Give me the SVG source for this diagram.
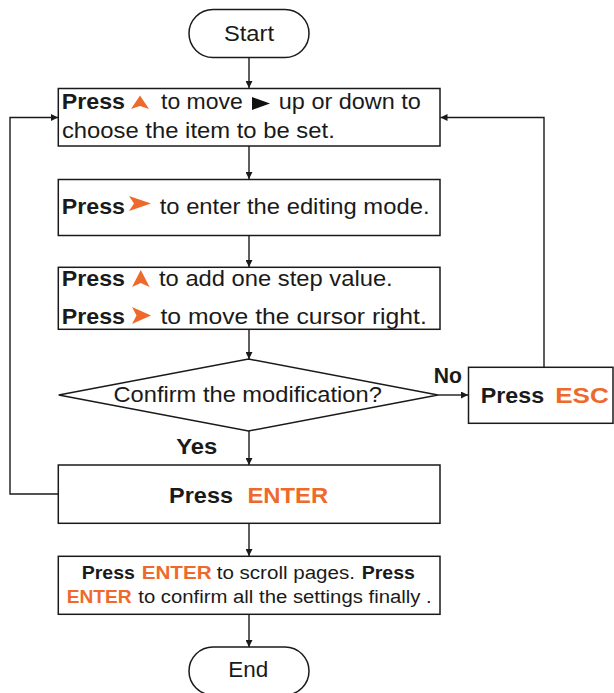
<svg xmlns="http://www.w3.org/2000/svg" width="614" height="693" viewBox="0 0 614 693">
<defs>
<style>
.box{fill:#fff;stroke:#1a1a1a;stroke-width:1.5}
.t{font-family:"Liberation Sans",Arial,sans-serif;font-size:21.5px;fill:#1a1a1a}
.s{font-size:18px}
.b{font-weight:bold}
.o{fill:#ee6a2c}
.ln{fill:none;stroke:#1a1a1a;stroke-width:1.4}
.ic{fill:#ee6a2c}
</style>
<marker id="ah" viewBox="0 0 10 10" refX="10" refY="5" markerWidth="9" markerHeight="7" markerUnits="userSpaceOnUse" orient="auto">
<path d="M0,0 L10,5 L0,10 z" fill="#1a1a1a"/>
</marker>
</defs>
<rect width="614" height="693" fill="#fff"/>
<g id="connectors">
<line class="ln" x1="249" y1="57" x2="249" y2="88" marker-end="url(#ah)"/>
<line class="ln" x1="249" y1="146" x2="249" y2="179" marker-end="url(#ah)"/>
<line class="ln" x1="249" y1="235" x2="249" y2="267" marker-end="url(#ah)"/>
<line class="ln" x1="249" y1="329" x2="249" y2="359" marker-end="url(#ah)"/>
<line class="ln" x1="249" y1="431" x2="249" y2="465" marker-end="url(#ah)"/>
<line class="ln" x1="249" y1="523" x2="249" y2="556" marker-end="url(#ah)"/>
<line class="ln" x1="249" y1="614" x2="249" y2="647" marker-end="url(#ah)"/>
<line class="ln" x1="438" y1="395" x2="468" y2="395" marker-end="url(#ah)"/>
<polyline class="ln" points="544,367 544,117.5 440.5,117.5" marker-end="url(#ah)"/>
<polyline class="ln" points="58,494 10,494 10,117.5 58,117.5" marker-end="url(#ah)"/>
</g>
<g id="start">
<rect class="box" x="189" y="9.5" width="120" height="48" rx="24"/>
<text class="t" x="224" y="40.7" textLength="50" lengthAdjust="spacingAndGlyphs">Start</text>
</g>
<g id="choose">
<rect class="box" x="58.3" y="88.5" width="381.7" height="57.5"/>
<text class="t b" x="61.7" y="109" textLength="63.3" lengthAdjust="spacingAndGlyphs">Press</text>
<polygon class="ic" points="140,95.5 149,109 140,106 131,109"/>
<text class="t" x="161" y="109" textLength="81.8" lengthAdjust="spacingAndGlyphs">to move</text>
<polygon fill="#111" points="252,97 270,103.5 252,110"/>
<text class="t" x="278.8" y="109" textLength="142.1" lengthAdjust="spacingAndGlyphs">up or down to</text>
<text class="t" x="61.9" y="138.3" textLength="272.9" lengthAdjust="spacingAndGlyphs">choose the item to be set.</text>
</g>
<g id="edit">
<rect class="box" x="58.3" y="179.5" width="381.7" height="56"/>
<text class="t b" x="61.7" y="214" textLength="63.3" lengthAdjust="spacingAndGlyphs">Press</text>
<polygon class="ic" points="129,196 151,203.5 129,211 134,203.5"/>
<text class="t" x="159.7" y="214" textLength="269.8" lengthAdjust="spacingAndGlyphs">to enter the editing mode.</text>
</g>
<g id="adjust">
<rect class="box" x="58.3" y="267.3" width="381.7" height="62"/>
<text class="t b" x="61.7" y="286" textLength="63.3" lengthAdjust="spacingAndGlyphs">Press</text>
<polygon class="ic" points="140.8,270 149.6,287 140.8,283 132,287"/>
<text class="t" x="159" y="286" textLength="233.7" lengthAdjust="spacingAndGlyphs">to add one step value.</text>
<text class="t b" x="61.7" y="324" textLength="63.3" lengthAdjust="spacingAndGlyphs">Press</text>
<polygon class="ic" points="132,307 151,315.5 132,324 136.5,315.5"/>
<text class="t" x="160.5" y="324" textLength="266.3" lengthAdjust="spacingAndGlyphs">to move the cursor right.</text>
</g>
<g id="confirm">
<polygon class="box" points="248.5,359 438,395 248.5,431 58.7,395"/>
<text class="t" x="113.5" y="402" textLength="268.3" lengthAdjust="spacingAndGlyphs">Confirm the modification?</text>
</g>
<g id="labels">
<text class="t b" x="433.8" y="383" textLength="28.2" lengthAdjust="spacingAndGlyphs">No</text>
<text class="t b" x="176.2" y="454" textLength="41.1" lengthAdjust="spacingAndGlyphs">Yes</text>
</g>
<g id="esc">
<rect class="box" x="468.5" y="367.3" width="144.5" height="56"/>
<text class="t b" x="480.8" y="402.7" textLength="63.4" lengthAdjust="spacingAndGlyphs">Press</text>
<text class="t b o" x="555.2" y="402.7" textLength="53.6" lengthAdjust="spacingAndGlyphs">ESC</text>
</g>
<g id="enter">
<rect class="box" x="58.3" y="465" width="381.7" height="58.3"/>
<text class="t b" x="169.1" y="502.7" textLength="63.9" lengthAdjust="spacingAndGlyphs">Press</text>
<text class="t b o" x="247.5" y="502.7" textLength="80.6" lengthAdjust="spacingAndGlyphs">ENTER</text>
</g>
<g id="final">
<rect class="box" x="58.3" y="556.3" width="381.7" height="58"/>
<text class="t s b" x="81.7" y="578.5" textLength="53.3" lengthAdjust="spacingAndGlyphs">Press</text>
<text class="t s b o" x="141.7" y="578.5" textLength="70" lengthAdjust="spacingAndGlyphs">ENTER</text>
<text class="t s" x="216.7" y="578.5" textLength="138.3" lengthAdjust="spacingAndGlyphs">to scroll pages.</text>
<text class="t s b" x="361.7" y="578.5" textLength="53.3" lengthAdjust="spacingAndGlyphs">Press</text>
<text class="t s b o" x="66.7" y="603.3" textLength="65" lengthAdjust="spacingAndGlyphs">ENTER</text>
<text class="t s" x="138.3" y="603.3" textLength="293.4" lengthAdjust="spacingAndGlyphs">to confirm all the settings finally .</text>
</g>
<g id="end">
<rect class="box" x="189" y="647" width="120" height="48" rx="24"/>
<text class="t" x="228.3" y="676.7" textLength="40" lengthAdjust="spacingAndGlyphs">End</text>
</g>
</svg>
